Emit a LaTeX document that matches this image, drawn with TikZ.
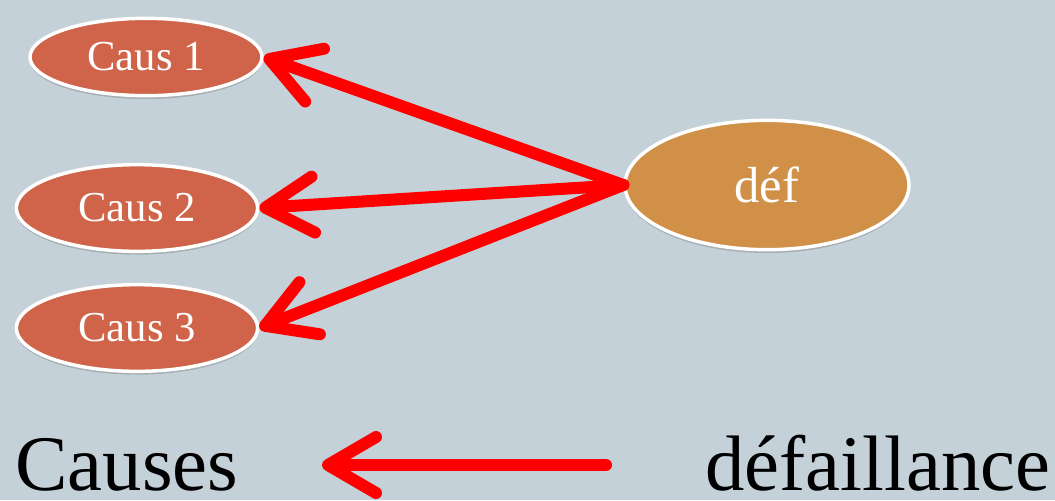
\documentclass[tikz,border=0pt]{standalone}
\usepackage{fontspec}
\setmainfont{Liberation Serif}
\usetikzlibrary{arrows.meta,shapes.geometric,shadows}

\definecolor{bgblue}{RGB}{197,209,216}
\definecolor{causred}{RGB}{208,100,74}
\definecolor{deforange}{RGB}{208,144,72}
\definecolor{arrred}{RGB}{255,0,0}

\tikzset{
  every picture/.style={line width=0.75pt},
  causnode/.style={ellipse, draw=white, line width=2.6pt, fill=causred, text=white,
    inner sep=0pt, minimum width=181pt, minimum height=65pt,
    font=\fontsize{32}{38}\selectfont,
    drop shadow={shadow xshift=0pt, shadow yshift=-2.5pt, opacity=0.25, fill=black!70}},
  defnode/.style={causnode, fill=deforange, minimum width=213pt, minimum height=97pt,
    font=\fontsize{38}{44}\selectfont},
  bigword/.style={inner sep=0pt, text depth=0pt, font=\fontsize{59}{68}\selectfont},
  redarrow/.style={draw=arrred, line width=9pt, line cap=round,
    -{Straight Barb[length=36pt, width=42pt, round]}}
}

\begin{document}
\begin{tikzpicture}[x=0.75pt,y=0.75pt,yscale=-1,xscale=1]
		\useasboundingbox (0,0) rectangle (1055,500);
		\fill [bgblue] (0,0) rectangle (1055,500);

		% Ellipse nodes
		\node [causnode, minimum width=174pt, minimum height=58pt] (caus1) at (146,57) {Caus 1};
		\node [causnode] (caus2) at (137,208) {Caus 2};
		\node [causnode] (caus3) at (137,328) {Caus 3};
		\node [defnode] (def) at (767,185) {déf};

		% Arrows from def to the causes
		\draw [redarrow] (def.west) -- (caus1.east);
		\draw [redarrow] (def.west) -- (caus2.east);
		\draw [redarrow] (def.west) -- (caus3.east);

		% Text Node
		\node [bigword, anchor=base west] (causes) at (15,490) {Causes};
		% Text Node
		\node [bigword, anchor=base east] (defaillance) at (1051,490) {défaillance};

		% Bottom arrow
		\coordinate (arrR) at (606,465);
		\coordinate (arrL) at (322,465);
		\draw [redarrow] (arrR) -- (arrL);

\end{tikzpicture}
\end{document}
